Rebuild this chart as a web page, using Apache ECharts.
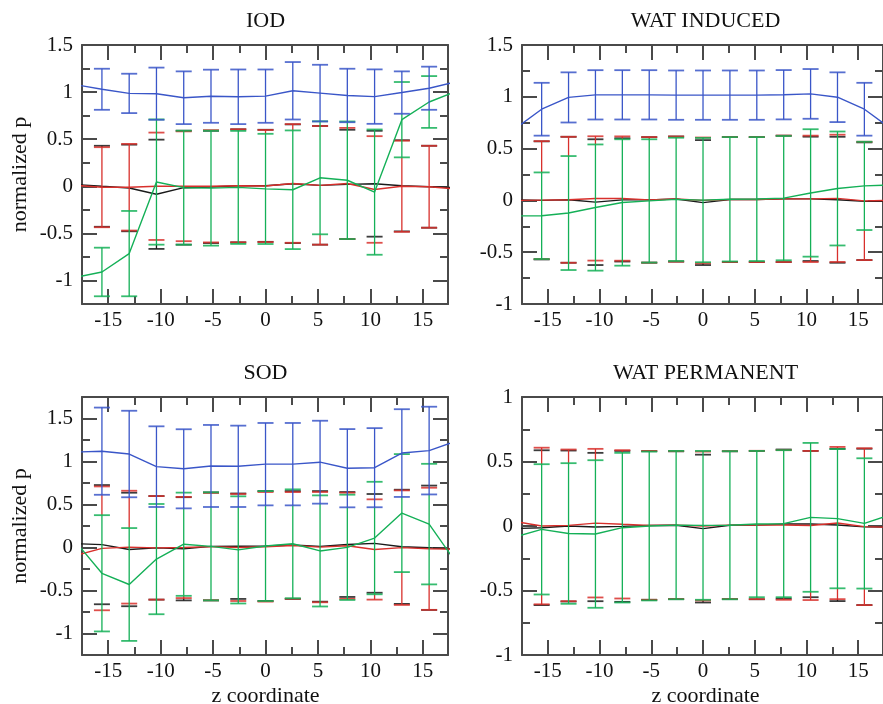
<!DOCTYPE html>
<html><head><meta charset="utf-8">
<script src="https://cdn.jsdelivr.net/npm/echarts@6/dist/echarts.min.js"></script>
<style>html,body{margin:0;padding:0;background:#fff}#c{width:883px;height:704px}</style>
</head><body><div id="c"></div>
<script>
// ---------- data ----------
const zCoord = [-18.2, -15.6, -13, -10.4, -7.8, -5.2, -2.6, 0, 2.6, 5.2, 7.8, 10.4, 13, 15.6, 18.2];
const panelTitles = ['IOD', 'WAT INDUCED', 'SOD', 'WAT PERMANENT'];
const xLabel = 'z coordinate';
const yLabel = 'normalized p';
const xMajorTicks = [-15, -10, -5, 0, 5, 10, 15];
const xMinorTicks = [-12.5, -7.5, -2.5, 2.5, 7.5, 12.5];

// IOD
const iodBlue     = [1.08, 1.03, 0.986, 0.983, 0.94, 0.956, 0.95, 0.957, 1.014, 0.989, 0.964, 0.952, 0.995, 1.041, 1.11];
const iodBlueErr  = [null, 0.218, 0.209, 0.277, 0.28, 0.282, 0.29, 0.283, 0.305, 0.301, 0.284, 0.289, 0.225, 0.229, null];
const iodRed      = [0.01, -0.01, -0.01, 0, 0, 0, 0.005, 0.003, 0.03, 0.01, 0.03, -0.034, 0, -0.005, -0.03];
const iodRedErr   = [null, 0.425, 0.46, 0.57, 0.583, 0.596, 0.6, 0.595, 0.63, 0.63, 0.59, 0.566, 0.484, 0.435, null];
const iodBlack    = [0.02, 0, -0.018, -0.085, -0.015, -0.007, 0.005, 0.005, 0.027, 0.01, 0.02, 0.027, 0.005, -0.005, -0.015];
const iodBlackErr = [null, 0.43, 0.46, 0.58, 0.605, 0.596, 0.6, 0.595, 0.63, 0.63, 0.58, 0.562, 0.484, 0.435, null];
const iodGreen    = [-0.97, -0.91, -0.715, 0.045, -0.015, -0.02, -0.012, -0.028, -0.037, 0.09, 0.064, -0.062, 0.707, 0.895, 1.01];
const iodGreenErr = [null, 0.258, 0.453, 0.665, 0.605, 0.61, 0.6, 0.585, 0.63, 0.6, 0.624, 0.665, 0.4, 0.275, null];

// WAT INDUCED
const wiBlue     = [0.69, 0.88, 0.994, 1.019, 1.019, 1.019, 1.016, 1.016, 1.016, 1.016, 1.02, 1.028, 0.996, 0.88, 0.69];
const wiBlueErr  = [null, 0.255, 0.242, 0.238, 0.238, 0.238, 0.238, 0.238, 0.238, 0.238, 0.238, 0.24, 0.24, 0.255, null];
const wiRed      = [0, 0.003, 0.006, 0.019, 0.018, 0.005, 0.013, 0, 0.008, 0.008, 0.015, 0.015, 0.02, -0.005, 0];
const wiRedErr   = [null, 0.569, 0.608, 0.6, 0.6, 0.606, 0.604, 0.607, 0.603, 0.603, 0.61, 0.61, 0.614, 0.571, null];
const wiBlack    = [0.005, 0, 0.006, -0.017, 0.005, 0.005, 0.013, -0.021, 0.008, 0.008, 0.015, 0.015, 0.006, -0.008, -0.01];
const wiBlackErr = [null, 0.57, 0.608, 0.607, 0.595, 0.606, 0.604, 0.603, 0.603, 0.603, 0.61, 0.6, 0.608, 0.568, null];
const wiGreen    = [-0.15, -0.148, -0.122, -0.069, -0.02, -0.005, 0.01, 0.003, 0.011, 0.013, 0.022, 0.072, 0.115, 0.14, 0.15];
const wiGreenErr = [null, 0.418, 0.55, 0.609, 0.61, 0.595, 0.595, 0.6, 0.6, 0.598, 0.6, 0.615, 0.55, 0.426, null];

// SOD
const sodBlue     = [1.11, 1.12, 1.087, 0.94, 0.915, 0.948, 0.944, 0.969, 0.969, 0.992, 0.922, 0.928, 1.098, 1.127, 1.24];
const sodBlueErr  = [null, 0.507, 0.503, 0.469, 0.46, 0.477, 0.473, 0.479, 0.479, 0.482, 0.455, 0.46, 0.51, 0.51, null];
const sodRed      = [-0.095, -0.01, 0.004, -0.004, 0, 0.01, 0, 0.008, 0.024, 0.004, 0.02, -0.023, -0.002, -0.015, -0.02];
const sodRedErr   = [null, 0.72, 0.656, 0.602, 0.588, 0.624, 0.622, 0.637, 0.62, 0.641, 0.617, 0.583, 0.666, 0.71, null];
const sodBlack    = [0.045, 0.033, -0.023, -0.004, -0.015, 0.013, 0.015, 0.017, 0.029, 0.013, 0.035, 0.048, 0.008, -0.003, -0.02];
const sodBlackErr = [null, 0.693, 0.66, 0.602, 0.6, 0.628, 0.613, 0.639, 0.627, 0.643, 0.61, 0.574, 0.664, 0.723, null];
const sodGreen    = [0.08, -0.30, -0.43, -0.135, 0.038, 0.013, -0.028, 0.017, 0.043, -0.04, 0.002, 0.11, 0.4, 0.272, -0.18];
const sodGreenErr = [null, 0.676, 0.656, 0.641, 0.6, 0.628, 0.623, 0.639, 0.633, 0.646, 0.612, 0.654, 0.686, 0.701, null];

// WAT PERMANENT
const wpRed      = [0.035, 0, 0.005, 0.022, 0.013, 0.005, 0.007, 0, 0.007, 0.008, 0.008, 0.004, 0.023, -0.005, -0.01];
const wpRedErr   = [null, 0.607, 0.588, 0.576, 0.575, 0.577, 0.573, 0.577, 0.573, 0.575, 0.58, 0.578, 0.59, 0.608, null];
const wpBlack    = [-0.02, -0.013, 0, -0.008, -0.003, 0.004, 0.006, -0.02, 0.006, 0.007, 0.015, 0.015, 0.008, -0.007, -0.01];
const wpBlackErr = [null, 0.6, 0.585, 0.575, 0.585, 0.576, 0.573, 0.573, 0.573, 0.575, 0.578, 0.567, 0.59, 0.606, null];
const wpGreen    = [-0.085, -0.026, -0.058, -0.062, -0.013, 0, 0.007, 0.005, 0.006, 0.015, 0.018, 0.067, 0.057, 0.02, 0.09];
const wpGreenErr = [null, 0.505, 0.545, 0.572, 0.58, 0.577, 0.575, 0.577, 0.574, 0.567, 0.57, 0.577, 0.54, 0.505, null];

// y-axis ranges and ticks per panel
const yRanges = [[-1.25, 1.5], [-1, 1.5], [-1.25, 1.75], [-1, 1]];
const yMajorTicks = [
  [-1, -0.5, 0, 0.5, 1, 1.5],
  [-1, -0.5, 0, 0.5, 1, 1.5],
  [-1, -0.5, 0, 0.5, 1, 1.5],
  [-1, -0.5, 0, 0.5, 1]
];
const yMinorTicks = [
  [-0.75, -0.25, 0.25, 0.75, 1.25],
  [-0.75, -0.25, 0.25, 0.75, 1.25],
  [-0.75, -0.25, 0.25, 0.75, 1.25],
  [-0.75, -0.25, 0.25, 0.75]
];
const xRange = [-17.5, 17.4];

// ---------- styling / layout ----------
const COLORS = { black: '#1a1a1a', red: '#d8302c', green: '#14b057', blue: '#3a56c8' };
const FRAME = '#4a4a4a';
const FONT = 'Liberation Serif';
const grids = [
  { left: 82, top: 45, width: 366, height: 259 },
  { left: 522, top: 45, width: 366, height: 259 },
  { left: 82, top: 397, width: 366, height: 258 },
  { left: 522, top: 397, width: 366, height: 258 }
];
// draw order: black, red, green, blue (later ones on top)
const panels = [
  [['black', iodBlack, iodBlackErr], ['red', iodRed, iodRedErr], ['green', iodGreen, iodGreenErr], ['blue', iodBlue, iodBlueErr]],
  [['black', wiBlack, wiBlackErr], ['red', wiRed, wiRedErr], ['green', wiGreen, wiGreenErr], ['blue', wiBlue, wiBlueErr]],
  [['black', sodBlack, sodBlackErr], ['red', sodRed, sodRedErr], ['green', sodGreen, sodGreenErr], ['blue', sodBlue, sodBlueErr]],
  [['black', wpBlack, wpBlackErr], ['red', wpRed, wpRedErr], ['green', wpGreen, wpGreenErr]]
];

function makeAxes(g, dim, min, max, majors, minors) {
  const posA = dim === 'x' ? 'bottom' : 'left';
  const posB = dim === 'x' ? 'top' : 'right';
  const base = (pos, ticks, len, line, label) => ({
    type: 'value', gridIndex: g, position: pos, min: min, max: max,
    axisLine: { show: line, onZero: false, lineStyle: { color: FRAME, width: 2 } },
    axisTick: { show: true, inside: true, length: len, customValues: ticks, lineStyle: { color: FRAME, width: 2 } },
    axisLabel: label ? { show: true, customValues: majors, margin: dim === 'x' ? 6 : 9,
      fontFamily: FONT, fontSize: 21, color: '#111', formatter: v => String(v) } : { show: false },
    splitLine: { show: false }, minorTick: { show: false }
  });
  return [
    base(posA, majors, 15, true, true),
    base(posA, minors, 8, false, false),
    base(posB, majors, 15, true, false),
    base(posB, minors, 8, false, false)
  ];
}

// parts of a vertical bar that are not hidden under bars drawn later at the same z
function subtractInterval(segs, a, b) {
  const out = [];
  segs.forEach(([l, h]) => {
    if (b <= l || a >= h) { out.push([l, h]); return; }
    if (l < a) out.push([l, a]);
    if (b < h) out.push([b, h]);
  });
  return out;
}

const xAxes = [], yAxes = [], series = [];
grids.forEach((gr, g) => {
  xAxes.push(...makeAxes(g, 'x', xRange[0], xRange[1], xMajorTicks, xMinorTicks));
  yAxes.push(...makeAxes(g, 'y', yRanges[g][0], yRanges[g][1], yMajorTicks[g], yMinorTicks[g]));
  const pan = panels[g];
  pan.forEach(([cname, vals, errs], si) => {
    const col = COLORS[cname];
    const ebData = [], segList = [];
    zCoord.forEach((x, i) => {
      if (errs[i] == null) return;
      const lo = vals[i] - errs[i], hi = vals[i] + errs[i];
      let segs = [[lo, hi]];
      for (let t = si + 1; t < pan.length; t++) {
        const e2 = pan[t][2][i];
        if (e2 != null) segs = subtractInterval(segs, pan[t][1][i] - e2, pan[t][1][i] + e2);
      }
      ebData.push([x, lo, hi]);
      segList.push(segs);
    });
    series.push({
      type: 'custom', xAxisIndex: g * 4, yAxisIndex: g * 4, z: 2 + si * 2, silent: true, animation: false,
      clip: true,
      data: ebData, encode: { x: 0, y: [1, 2] },
      renderItem: (params, api) => {
        const x = api.value(0);
        const lo = api.coord([x, api.value(1)]);
        const hi = api.coord([x, api.value(2)]);
        const w = 8;
        const children = [];
        segList[params.dataIndex].forEach(([a, b]) => {
          const pa = api.coord([x, a]), pb = api.coord([x, b]);
          children.push({ type: 'line', shape: { x1: pa[0], y1: pa[1], x2: pb[0], y2: pb[1] }, style: { stroke: col, lineWidth: 1.3 } });
        });
        children.push({ type: 'line', shape: { x1: lo[0] - w, y1: lo[1], x2: lo[0] + w, y2: lo[1] }, style: { stroke: col, lineWidth: 1.8, opacity: 0.85 } });
        children.push({ type: 'line', shape: { x1: hi[0] - w, y1: hi[1], x2: hi[0] + w, y2: hi[1] }, style: { stroke: col, lineWidth: 1.8, opacity: 0.85 } });
        return { type: 'group', children: children };
      }
    });
    series.push({
      type: 'line', xAxisIndex: g * 4, yAxisIndex: g * 4, z: 3 + si * 2, silent: true, animation: false,
      clip: true, showSymbol: false, symbol: 'none',
      data: zCoord.map((x, i) => [x, vals[i]]),
      lineStyle: { color: col, width: 1.4 }
    });
  });
});

const texts = [];
grids.forEach((gr, g) => {
  texts.push({ type: 'text', x: gr.left + 183.5, y: g < 2 ? 21 : 373,
    style: { text: panelTitles[g], font: '22px "' + FONT + '"', fill: '#111', textAlign: 'center', textVerticalAlign: 'middle' } });
});
[0, 2].forEach(g => {
  const gr = grids[g];
  texts.push({ type: 'text', x: 20, y: gr.top + gr.height / 2, rotation: Math.PI / 2,
    style: { text: yLabel, font: '22px "' + FONT + '"', fill: '#111', textAlign: 'center', textVerticalAlign: 'middle' } });
});
[2, 3].forEach(g => {
  const gr = grids[g];
  texts.push({ type: 'text', x: gr.left + 183.5, y: 696,
    style: { text: xLabel, font: '22px "' + FONT + '"', fill: '#111', textAlign: 'center', textVerticalAlign: 'middle' } });
});

const chart = echarts.init(document.getElementById('c'), null, { renderer: 'canvas' });
chart.setOption({
  backgroundColor: '#fff',
  animation: false,
  grid: grids,
  xAxis: xAxes,
  yAxis: yAxes,
  series: series,
  graphic: texts
});
</script></body></html>
